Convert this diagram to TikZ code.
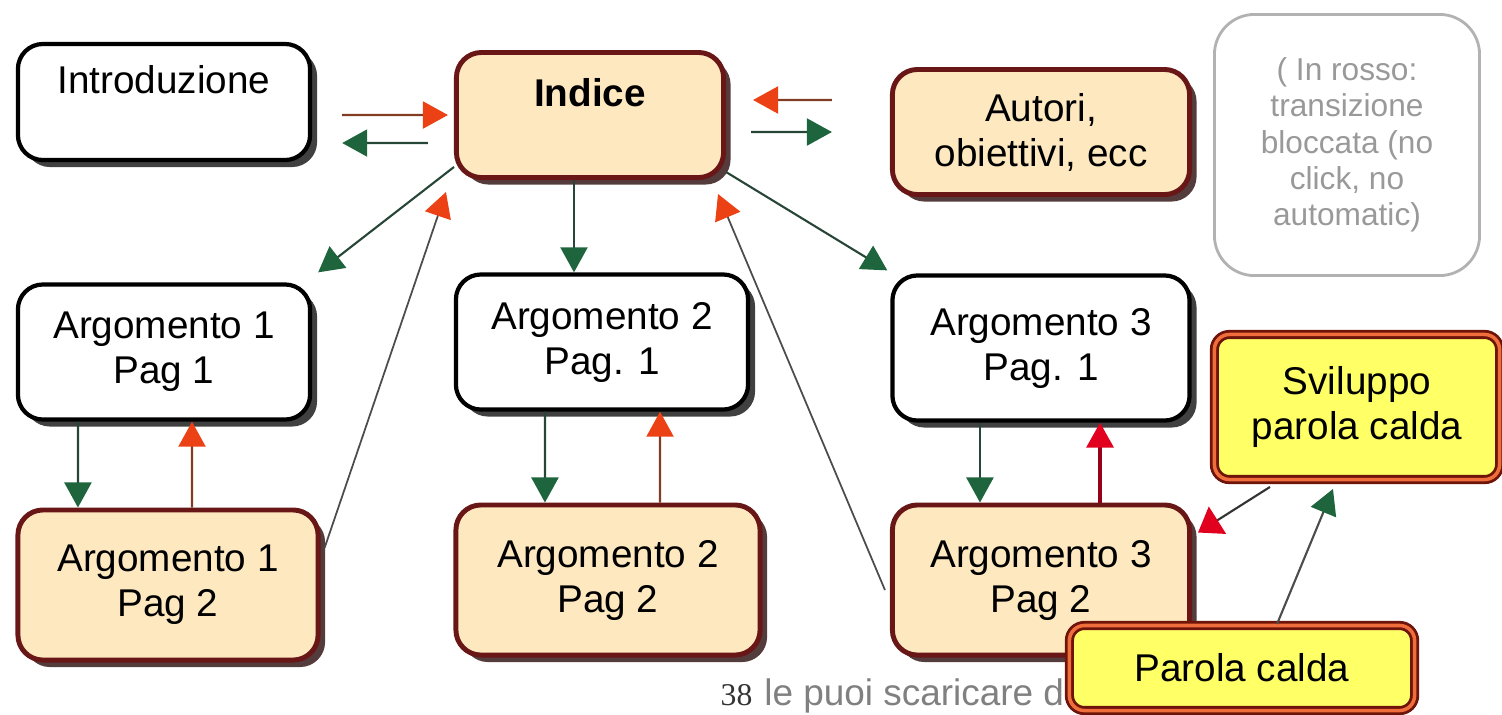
\documentclass[tikz,border=0pt]{standalone}
\usepackage{fontspec}
\setmainfont{Liberation Sans}
\newfontfamily\numfont{Liberation Serif}
\usetikzlibrary{arrows.meta,shadows}
\definecolor{pagfill}{RGB}{253,232,192}
\definecolor{pagborder}{RGB}{105,22,22}
\definecolor{pagshadow}{RGB}{85,60,60}
\definecolor{hotfill}{RGB}{255,255,102}
\definecolor{hotborder}{RGB}{110,20,10}
\definecolor{hotinner}{RGB}{240,110,60}
\definecolor{goline}{RGB}{40,70,55}
\definecolor{gohead}{RGB}{30,100,60}
\definecolor{stopline}{RGB}{130,60,35}
\definecolor{stophead}{RGB}{235,65,20}
\definecolor{blockline}{RGB}{150,0,25}
\definecolor{blockhead}{RGB}{225,0,30}

\begin{document}
\begin{tikzpicture}[x=0.01cm,y=-0.01cm]
	\tikzstyle{Box} = [rectangle, rounded corners=0.25cm, align=center, font=\fontsize{11}{12.8}\selectfont]
	\tikzstyle{Plain} = [Box, draw=black, line width=1.2pt, fill=white, drop shadow={shadow xshift=0.07cm, shadow yshift=-0.07cm, fill=black!75, opacity=1}]
	\tikzstyle{Pag} = [Box, draw=pagborder, line width=1.4pt, fill=pagfill, drop shadow={shadow xshift=0.07cm, shadow yshift=-0.07cm, fill=pagshadow, opacity=1}]
	\tikzstyle{Hot} = [Box, rounded corners=0.15cm, draw=hotborder, line width=0.8pt, double=hotinner, double distance=1pt, fill=hotfill]
	\tikzstyle{Note} = [Box, rounded corners=0.4cm, draw=black!30, line width=0.8pt, text=black!40, font=\fontsize{9}{10.3}\selectfont]
	\tikzstyle{go} = [line width=0.6pt, draw=goline, -{Triangle[length=2.5mm, width=2.7mm, color=gohead]}]
	\tikzstyle{stop} = [line width=0.6pt, draw=stopline, -{Triangle[length=2.5mm, width=2.7mm, color=stophead]}]
	
	\useasboundingbox (0,0) rectangle (1502,714);
	
	\node (intro) [Plain, minimum width=2.92cm, minimum height=1.16cm] at (164,102) {Introduzione\hspace{0.18cm}\\ ~};
	\node (indice) [Pag, minimum width=2.67cm, minimum height=1.25cm] at (590,115) {\textbf{Indice}\\ ~};
	\node (autori) [Pag, minimum width=2.97cm, minimum height=1.25cm] at (1041,132) {Autori,\\ obiettivi, ecc};
	\node (legenda) [Note, minimum width=2.65cm, minimum height=2.61cm] at (1347,145) {( In rosso:\\ transizione\\ bloccata (no\\ click, no\\ automatic)};
	
	\node (a1p1) [Plain, minimum width=2.92cm, minimum height=1.35cm] at (164,352) {Argomento 1\\ Pag 1};
	\node (a2p1) [Plain, minimum width=2.92cm, minimum height=1.35cm] at (602,342) {Argomento 2\\ Pag. 1};
	\node (a3p1) [Plain, minimum width=2.97cm, minimum height=1.45cm] at (1041,348) {Argomento 3\\ Pag. 1};
	
	\node (a1p2) [Pag, minimum width=3cm, minimum height=1.5cm] at (168,585) {Argomento 1\\ Pag 2};
	\node (a2p2) [Pag, minimum width=3.04cm, minimum height=1.5cm] at (608,580) {Argomento 2\\ Pag 2};
	\node (a3p2) [Pag, minimum width=2.97cm, minimum height=1.5cm] at (1041,580) {Argomento 3\\ Pag 2};
	
	\node (sviluppo) [Hot, minimum width=2.85cm, minimum height=1.45cm] at (1357,407) {Sviluppo\\ parola calda};
	\node (foot) [anchor=base west, inner sep=0pt, font=\fontsize{10.5}{12}\selectfont] at (720,705) {\textcolor{black!80}{\numfont\fontsize{9}{10}\selectfont 38}\hspace{0.12cm}\textcolor{black!50}{le puoi scaricare d}};
	\node (parola) [Hot, minimum width=3.45cm, minimum height=0.85cm] at (1242,668) {Parola calda};
	
	\draw [stop] ([xshift=3mm,yshift=-1.3mm]intro.east) -- ([xshift=-0.6mm]indice.west);
	\draw [go] ([xshift=-2.6mm,yshift=-2.8mm]indice.west) -- ([xshift=3mm,yshift=-4.1mm]intro.east);
	\draw [stop] ([xshift=-5.8mm,yshift=3.2mm]autori.west) -- ([xshift=2.7mm,yshift=1.5mm]indice.east);
	\draw [go] ([xshift=2.5mm,yshift=-1.7mm]indice.east) -- ([xshift=-5.8mm]autori.west);
	
	\draw [go] ([yshift=1.3mm]indice.south west) -- ([xshift=0.6mm,yshift=1mm]a1p1.north east);
	\draw [go] ([xshift=-1.6mm]indice.south) -- ([xshift=-1.6mm]indice.south |- a2p1.north);
	\draw [go] ([yshift=0.8mm]indice.south east) -- ([xshift=-0.3mm,yshift=0.3mm]a3p1.north west);
	\draw [stop, line width=0.5pt, draw=black!70] ([xshift=0.4mm,yshift=3.7mm]a1p2.east) -- ([xshift=-0.8mm,yshift=-1.2mm]indice.south west);
	\draw [stop, line width=0.5pt, draw=black!70] ([xshift=-0.5mm,yshift=-1mm]a3p2.west) -- ([xshift=-0.8mm,yshift=-1.4mm]indice.south east);
	
	\draw [go] ([xshift=-8.6mm]a1p1.south) -- ([xshift=-9mm]a1p2.north);
	\draw [stop] ([xshift=2.4mm]a1p2.north) -- ([xshift=2.8mm]a1p1.south);
	\draw [go] ([xshift=-5.7mm]a2p1.south) -- ([xshift=-6.3mm]a2p2.north);
	\draw [stop] ([xshift=5.2mm]a2p2.north) -- ([xshift=5.8mm]a2p1.south);
	\draw [go] ([xshift=-6.1mm]a3p1.south) -- ([xshift=-6.1mm]a3p2.north);
	\draw [stop, line width=1pt, draw=blockline, -{Triangle[length=2.5mm, width=2.7mm, color=blockhead]}] ([xshift=5.9mm]a3p2.north) -- ([xshift=5.9mm]a3p1.south);
	
	\draw [stop, draw=black!80, -{Triangle[length=2.3mm, width=3.2mm, color=blockhead]}] ([xshift=-8.7mm,yshift=-0.6mm]sviluppo.south) -- ([xshift=0.6mm,yshift=-3mm]a3p2.north east);
	\draw [go, draw=black!70] ([xshift=3.5mm]parola.north) -- ([xshift=-2.4mm,yshift=-0.8mm]sviluppo.south);
\end{tikzpicture}
\end{document}
